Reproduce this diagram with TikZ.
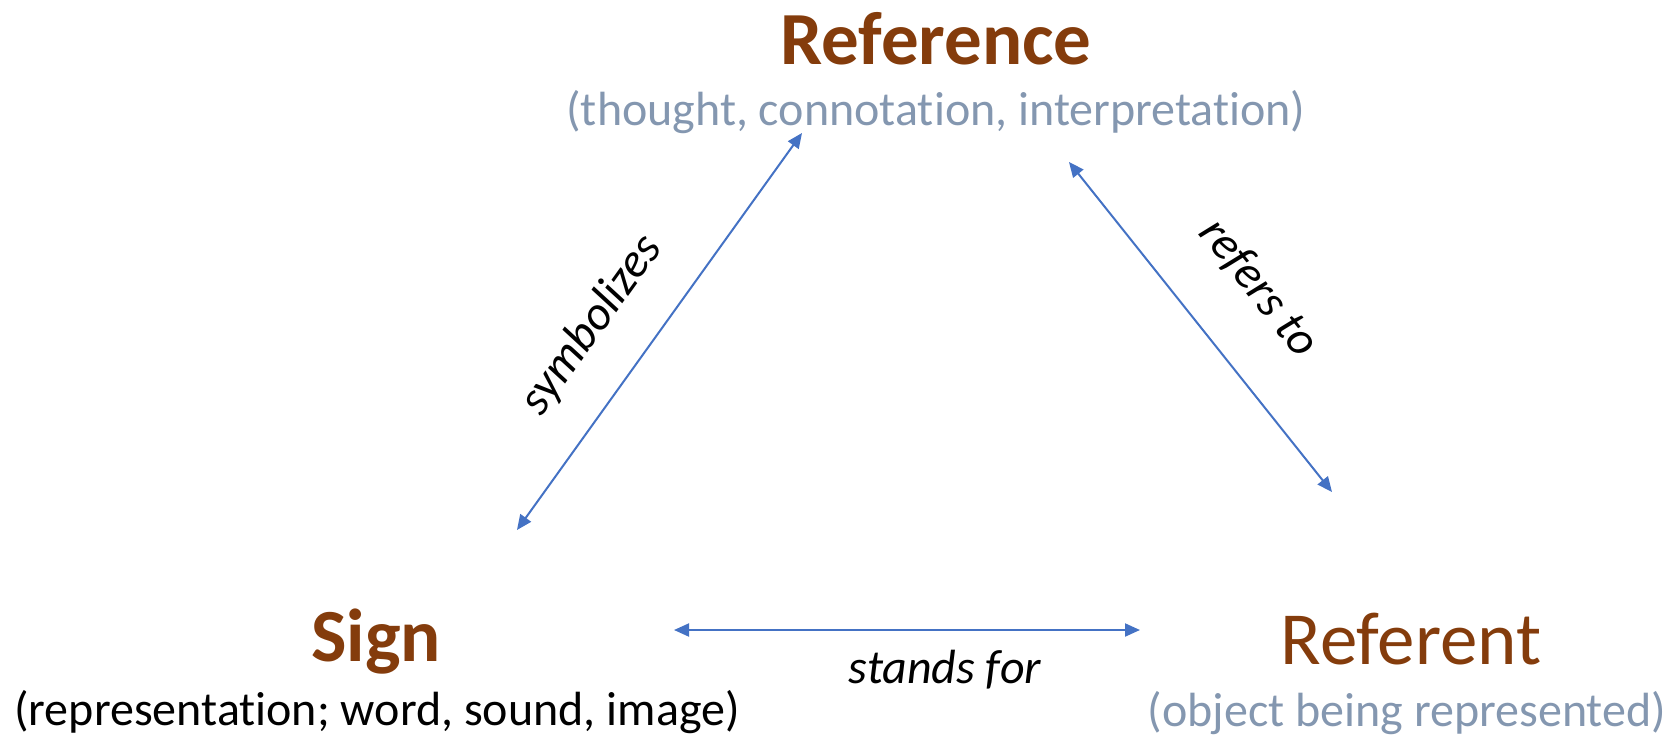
\documentclass[tikz,border=0pt]{standalone}
\usepackage{fontspec}
\setmainfont{Carlito}[Ligatures=NoCommon]
\usetikzlibrary{arrows.meta}

\definecolor{termbrown}{HTML}{843C0C}
\definecolor{notegray}{HTML}{8497B0}
\definecolor{linkblue}{HTML}{4472C4}

\tikzset{
  term/.style={inner sep=0pt, anchor=base, text=termbrown, font=\fontsize{75}{90}\selectfont},
  note/.style={inner sep=0pt, anchor=base, font=\fontsize{48}{58}\selectfont},
  relation/.style={inner sep=0pt, font=\fontsize{48}{58}\selectfont\itshape},
  link/.style={draw=linkblue, line width=2pt,
    {Triangle[length=15pt,width=13pt]}-{Triangle[length=15pt,width=13pt]}}
}

\begin{document}
\begin{tikzpicture}[x=1pt, y=-1pt]
    % Page frame
    \useasboundingbox (0,0) rectangle (1673,737);

    % Top corner: reference
    \node[term, font=\fontsize{75}{90}\selectfont\bfseries] (reference) at (936,64) {Reference};
    \node[note, text=notegray] (referenceNote) at (936,125) {(thought, connotation, interpretation)};

    % Left corner: sign
    \node[term, font=\fontsize{75}{90}\selectfont\bfseries] (sign) at (376,661) {Sign};
    \node[note] (signNote) at (377,725) {(representation; word, sound, image)};

    % Right corner: referent
    \node[term] (referent) at (1411,664) {Referent};
    \node[note, text=notegray] (referentNote) at (1407,726) {(object being represented)};

    % Arrow ends
    \coordinate (symA) at (517,530);
    \coordinate (symB) at (802,133);
    \coordinate (refA) at (1069,162);
    \coordinate (refB) at (1332,492);
    \coordinate (stdA) at (674,630);
    \coordinate (stdB) at (1140,630);

    % Sides of the triangle
    \draw[link] (symA) -- (symB);
    \draw[link] (refA) -- (refB);
    \draw[link] (stdA) -- (stdB);

    % Relation labels
    \node[relation, rotate=54.3] (symbolizes) at (592,325) {symbolizes};
    \node[relation, rotate=-51.5] (refersTo) at (1259,288) {refers to};
    \node[relation, anchor=base] (standsFor) at (945,683) {stands for};
\end{tikzpicture}
\end{document}
